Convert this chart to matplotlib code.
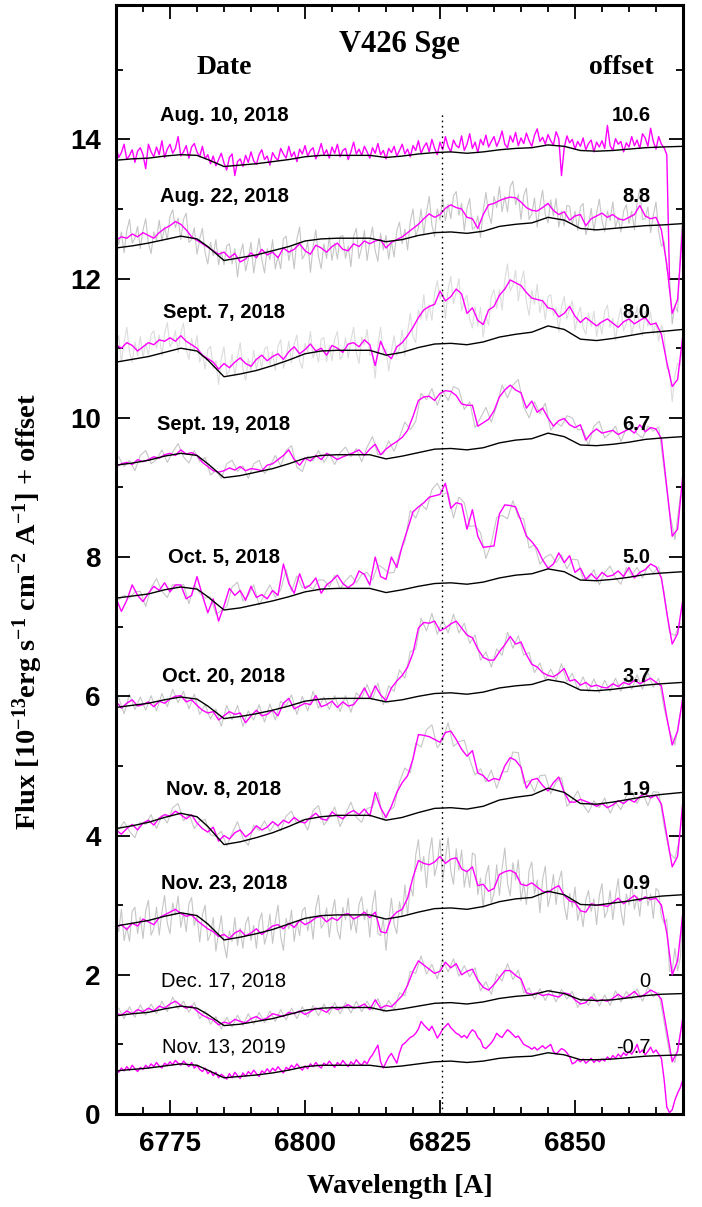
import numpy as np
import matplotlib
matplotlib.use("Agg")
import matplotlib.pyplot as plt
from matplotlib.ticker import MultipleLocator

# ---------------------------------------------------------------- grids
wl = np.arange(6765.0, 6870.5, 1.0)          # smoothed spectra (1 A)
wl_raw = np.arange(6765.5, 6870.0, 1.0)      # unsmoothed spectra, 1 A
wl_fine = np.arange(6765.0, 6870.25, 0.5)    # 0.5 A sampling
wl_aug10 = np.arange(6765.0, 6867.75, 0.5)   # first night
wl_cont = [6765, 6768, 6771, 6774, 6777, 6780, 6782, 6785, 6788, 6791, 6794,
           6797, 6800, 6803, 6806, 6809, 6812, 6815, 6818, 6821, 6824, 6827,
           6830, 6833, 6836, 6839, 6842, 6845, 6848, 6851, 6854, 6857, 6860,
           6863, 6866, 6870]
raman_wl = 6825.4

dates = ["Aug. 10, 2018", "Aug. 22, 2018", "Sept. 7, 2018", "Sept. 19, 2018",
         "Oct. 5, 2018", "Oct. 20, 2018", "Nov. 8, 2018", "Nov. 23, 2018",
         "Dec. 17, 2018", "Nov. 13, 2019"]
offsets = [10.6, 8.8, 8.0, 6.7, 5.0, 3.7, 1.9, 0.9, 0.0, -0.7]
offset_text = ["10.6", "8.8", "8.0", "6.7", "5.0", "3.7", "1.9", "0.9", "0", "-0.7"]

# ---------------------------------------------------------------- fluxes [1e-13 erg/s/cm2/A]
flux_aug10 = [
    3.29, 3.14, 3.21, 3.33, 3.11, 3.17, 3.25, 3.07, 3.23, 3.28,
    3.18, 2.98, 3.33, 3.22, 3.15, 3.29, 3.18, 3.38, 3.14, 3.26,
    3.33, 3.20, 3.27, 3.44, 3.16, 3.22, 3.31, 3.13, 3.29, 3.34,
    3.22, 3.15, 3.30, 3.12, 3.18, 3.05, 3.16, 3.02, 3.11, 3.20,
    3.06, 2.96, 3.14, 3.19, 2.88, 3.08, 3.12, 3.01, 3.17, 3.07,
    3.22, 3.09, 3.04, 3.18, 3.25, 3.11, 3.16, 3.03, 3.21, 3.14,
    3.10, 3.27, 3.19, 3.13, 3.30, 3.15, 3.22, 3.08, 3.26, 3.19,
    3.31, 3.16, 3.24, 3.28, 3.12, 3.21, 3.34, 3.18, 3.25, 3.13,
    3.29, 3.20, 3.33, 3.15, 3.24, 3.27, 3.11, 3.22, 3.36, 3.19,
    3.26, 3.17, 3.30, 3.22, 3.13, 3.28, 3.20, 3.34, 3.18, 3.24,
    3.12, 3.27, 3.21, 3.30, 3.16, 3.24, 3.33, 3.19, 3.26, 3.15,
    3.31, 3.24, 3.38, 3.20, 3.29, 3.35, 3.22, 3.40, 3.27, 3.18,
    3.36, 3.25, 3.44, 3.30, 3.22, 3.39, 3.31, 3.28, 3.45, 3.24,
    3.33, 3.48, 3.27, 3.36, 3.21, 3.40, 3.32, 3.46, 3.29, 3.37,
    3.44, 3.30, 3.39, 3.52, 3.33, 3.28, 3.45, 3.36, 3.50, 3.31,
    3.42, 3.34, 3.49, 3.38, 3.30, 3.46, 3.55, 3.37, 3.43, 3.33,
    3.47, 3.38, 3.32, 3.51, 3.41, 2.88, 3.28, 3.45, 3.35, 3.40,
    3.26, 3.37, 3.30, 3.42, 3.25, 3.34, 3.39, 3.22, 3.36, 3.29,
    3.38, 3.27, 3.60, 3.31, 3.24, 3.41, 3.33, 3.37, 3.22, 3.35,
    3.29, 3.44, 3.31, 3.39, 3.27, 3.48, 3.42, 3.30, 3.56, 3.37,
    3.26, 3.44, 3.33, 3.28, 3.18, 1.40]

flux_aug22 = [
    3.75, 3.80, 3.78, 3.84, 3.80, 3.86, 3.82, 3.78, 3.86, 3.92,
    3.96, 4.02, 3.98, 3.90, 3.80, 3.75, 3.70, 3.65, 3.60, 3.55,
    3.58, 3.50, 3.56, 3.44, 3.48, 3.57, 3.50, 3.62, 3.54, 3.58,
    3.50, 3.64, 3.58, 3.62, 3.70, 3.60, 3.55, 3.68, 3.64, 3.58,
    3.66, 3.71, 3.62, 3.60, 3.70, 3.66, 3.74, 3.70, 3.74, 3.76,
    3.64, 3.72, 3.76, 3.80, 3.86, 3.92, 3.98, 4.06, 4.13, 4.08,
    4.12, 4.21, 4.26, 4.22, 4.20, 4.08, 4.06, 3.92, 4.12, 4.26,
    4.28, 4.32, 4.35, 4.37, 4.36, 4.30, 4.22, 4.18, 4.17, 4.22,
    4.28, 4.18, 4.12, 4.16, 4.04, 4.10, 4.12, 3.96, 4.06, 4.10,
    4.14, 4.08, 4.12, 4.06, 4.04, 4.08, 4.12, 4.25, 4.10, 4.06,
    4.08, 3.90, 3.40, 2.70, 2.90, 4.00]
raw_aug22 = [
    3.95, 3.69, 3.87, 3.57, 3.89, 4.05, 3.71, 3.78, 3.95, 3.63,
    3.90, 4.06, 3.71, 3.56, 3.87, 3.75, 4.04, 3.74, 3.94, 3.76,
    4.09, 4.19, 3.93, 4.07, 3.76, 4.05, 4.14, 3.72, 3.76, 3.93,
    3.55, 3.77, 3.92, 3.57, 3.41, 3.72, 3.53, 3.76, 3.40, 3.59,
    3.40, 3.67, 3.70, 3.41, 3.63, 3.22, 3.55, 3.70, 3.31, 3.48,
    3.72, 3.28, 3.54, 3.78, 3.48, 3.28, 3.63, 3.47, 3.76, 3.34,
    3.52, 3.34, 3.77, 3.81, 3.46, 3.67, 3.34, 3.77, 3.94, 3.48,
    3.55, 3.73, 3.29, 3.66, 3.90, 3.52, 3.34, 3.70, 3.49, 3.80,
    3.46, 3.71, 3.48, 3.80, 3.82, 3.49, 3.67, 3.37, 3.81, 3.92,
    3.49, 3.65, 3.89, 3.46, 3.74, 3.94, 3.60, 3.45, 3.85, 3.61,
    3.82, 3.48, 3.74, 3.51, 3.89, 4.01, 3.70, 3.91, 3.61, 4.02,
    4.20, 3.80, 3.93, 4.20, 3.83, 4.15, 4.38, 3.97, 3.80, 4.20,
    4.04, 4.36, 4.03, 4.27, 4.06, 4.39, 4.45, 4.11, 4.28, 3.89,
    4.21, 4.35, 3.91, 3.94, 4.10, 3.79, 4.17, 4.44, 4.13, 3.99,
    4.38, 4.22, 4.52, 4.16, 4.38, 4.16, 4.52, 4.60, 4.26, 4.41,
    4.05, 4.39, 4.50, 4.05, 4.13, 4.36, 3.94, 4.25, 4.47, 4.12,
    4.00, 4.33, 4.10, 4.35, 3.94, 4.17, 3.96, 4.25, 4.24, 3.98,
    4.17, 3.89, 4.23, 4.28, 3.83, 3.97, 4.21, 3.88, 4.14, 4.34,
    4.03, 3.87, 4.17, 4.03, 4.30, 3.94, 4.08, 3.87, 4.17, 4.26,
    3.99, 4.17, 3.90, 4.29, 4.49, 4.05, 4.06, 4.23, 3.86, 4.11,
    4.30, 3.88, 3.66, 3.74, 3.33, 3.23, 2.55, 2.82, 2.72, 3.58,
    4.20]

flux_sep07 = [
    3.05, 3.00, 3.08, 3.04, 2.96, 3.02, 3.08, 3.05, 3.12, 3.10,
    3.15, 3.10, 3.18, 3.10, 3.05, 3.00, 2.90, 2.85, 2.80, 2.70,
    2.78, 2.72, 2.80, 2.86, 2.78, 2.74, 2.84, 2.90, 2.82, 2.88,
    2.92, 2.84, 2.95, 3.02, 2.92, 2.98, 3.06, 2.96, 3.00, 2.90,
    3.04, 3.00, 2.94, 3.06, 3.08, 3.02, 3.12, 3.05, 2.75, 3.10,
    2.92, 2.85, 3.02, 3.08, 3.18, 3.30, 3.44, 3.55, 3.60, 3.63,
    3.82, 3.68, 3.74, 3.85, 3.78, 3.50, 3.58, 3.40, 3.34, 3.55,
    3.60, 3.76, 3.85, 3.98, 3.94, 3.90, 3.80, 3.72, 3.70, 3.68,
    3.58, 3.56, 3.45, 3.50, 3.60, 3.46, 3.37, 3.44, 3.38, 3.32,
    3.38, 3.42, 3.36, 3.30, 3.38, 3.42, 3.35, 3.40, 3.44, 3.34,
    3.36, 3.20, 2.80, 2.45, 2.55, 3.20]
raw_sep07 = [
    3.01, 3.18, 2.80, 3.08, 3.30, 2.95, 2.80, 3.09, 2.89, 3.17,
    2.87, 3.07, 2.90, 3.20, 3.25, 3.00, 3.19, 2.89, 3.21, 3.37,
    3.02, 3.09, 3.25, 2.94, 3.22, 3.36, 2.99, 2.84, 3.14, 2.96,
    3.18, 2.80, 2.92, 2.70, 2.98, 3.03, 2.71, 2.82, 2.48, 2.85,
    3.02, 2.62, 2.68, 2.91, 2.60, 2.87, 3.08, 2.71, 2.54, 2.85,
    2.67, 2.97, 2.69, 2.89, 2.72, 2.99, 3.02, 2.76, 2.95, 2.68,
    3.03, 3.12, 2.71, 2.86, 3.10, 2.79, 3.06, 3.19, 2.81, 2.71,
    3.07, 2.95, 3.24, 2.86, 2.98, 2.80, 3.13, 3.15, 2.81, 3.04,
    2.82, 3.13, 3.24, 2.84, 2.90, 3.15, 2.86, 3.11, 3.30, 2.94,
    2.78, 3.16, 3.05, 3.27, 2.90, 2.92, 2.57, 3.05, 3.30, 2.92,
    2.99, 2.67, 2.96, 3.18, 2.89, 3.00, 3.26, 2.89, 3.23, 3.50,
    3.17, 3.08, 3.55, 3.42, 3.77, 3.40, 3.62, 3.40, 3.79, 3.97,
    3.71, 3.83, 3.42, 3.84, 4.03, 3.64, 3.80, 4.00, 3.54, 3.69,
    3.76, 3.41, 3.29, 3.60, 3.32, 3.59, 3.16, 3.47, 3.33, 3.74,
    3.84, 3.57, 3.84, 3.55, 3.98, 4.21, 3.82, 3.91, 4.12, 3.68,
    3.95, 4.11, 3.67, 3.47, 3.83, 3.63, 3.92, 3.51, 3.70, 3.41,
    3.74, 3.77, 3.47, 3.58, 3.23, 3.59, 3.74, 3.42, 3.56, 3.68,
    3.26, 3.46, 3.59, 3.30, 3.20, 3.50, 3.31, 3.53, 3.17, 3.37,
    3.20, 3.53, 3.62, 3.30, 3.43, 3.11, 3.41, 3.58, 3.25, 3.36,
    3.57, 3.19, 3.39, 3.60, 3.29, 3.18, 3.53, 3.32, 3.52, 3.20,
    3.38, 3.10, 3.33, 3.20, 2.71, 2.69, 2.23, 2.61, 2.79, 2.75,
    3.16]

flux_sep19 = [
    2.60, 2.64, 2.66, 2.63, 2.70, 2.67, 2.70, 2.74, 2.72, 2.77,
    2.79, 2.76, 2.84, 2.78, 2.80, 2.76, 2.66, 2.60, 2.54, 2.52,
    2.54, 2.58, 2.55, 2.60, 2.54, 2.57, 2.56, 2.54, 2.62, 2.64,
    2.70, 2.76, 2.84, 2.70, 2.62, 2.72, 2.68, 2.76, 2.70, 2.79,
    2.75, 2.70, 2.74, 2.77, 2.80, 2.84, 2.76, 2.85, 2.92, 2.77,
    2.85, 2.91, 2.96, 3.02, 3.12, 3.32, 3.55, 3.60, 3.61, 3.55,
    3.65, 3.69, 3.68, 3.62, 3.50, 3.48, 3.48, 3.18, 3.23, 3.28,
    3.40, 3.60, 3.70, 3.77, 3.70, 3.66, 3.44, 3.54, 3.38, 3.44,
    3.30, 3.18, 3.26, 3.29, 3.20, 3.16, 3.20, 2.98, 3.08, 3.14,
    3.08, 3.10, 3.12, 3.06, 3.10, 3.14, 3.08, 3.20, 3.10, 3.16,
    3.14, 3.00, 2.30, 1.60, 1.70, 2.50]
raw_sep19 = [
    2.74, 2.60, 2.69, 2.54, 2.76, 2.83, 2.64, 2.70, 2.84, 2.66,
    2.81, 2.93, 2.74, 2.65, 2.83, 2.67, 2.73, 2.48, 2.54, 2.43,
    2.64, 2.69, 2.53, 2.61, 2.43, 2.64, 2.69, 2.50, 2.60, 2.76,
    2.61, 2.83, 2.90, 2.59, 2.53, 2.75, 2.68, 2.83, 2.66, 2.78,
    2.63, 2.80, 2.88, 2.74, 2.86, 2.67, 2.88, 3.03, 2.77, 2.78,
    2.97, 2.82, 3.02, 3.24, 3.13, 3.25, 3.65, 3.56, 3.72, 3.48,
    3.69, 3.55, 3.75, 3.71, 3.42, 3.53, 3.16, 3.30, 3.45, 3.24,
    3.47, 3.77, 3.59, 3.77, 3.85, 3.46, 3.30, 3.53, 3.36, 3.51,
    3.12, 3.23, 3.18, 3.33, 3.30, 3.13, 3.13, 2.90, 3.18, 3.25,
    3.01, 3.08, 3.18, 2.96, 3.15, 3.24, 3.07, 3.01, 3.18, 3.11,
    3.17, 2.56, 1.96, 1.55, 2.18]

flux_oct05 = [
    2.41, 2.22, 2.38, 2.60, 2.45, 2.36, 2.48, 2.58, 2.52, 2.63,
    2.50, 2.60, 2.60, 2.40, 2.45, 2.72, 2.45, 2.20, 2.40, 2.08,
    2.30, 2.55, 2.45, 2.52, 2.38, 2.58, 2.42, 2.46, 2.40, 2.52,
    2.45, 2.90, 2.62, 2.48, 2.76, 2.55, 2.60, 2.70, 2.48, 2.60,
    2.66, 2.74, 2.62, 2.56, 2.62, 2.80, 2.75, 2.60, 3.00, 2.72,
    2.68, 3.00, 2.85, 3.16, 3.40, 3.65, 3.72, 3.78, 3.86, 3.88,
    3.90, 4.06, 3.70, 3.78, 3.76, 3.40, 3.68, 3.30, 3.14, 3.15,
    3.16, 3.62, 3.75, 3.74, 3.72, 3.52, 3.30, 3.22, 3.12, 2.96,
    2.84, 2.90, 3.06, 2.92, 3.02, 2.78, 2.84, 2.68, 2.76, 2.68,
    2.78, 2.72, 2.74, 2.80, 2.72, 2.85, 2.70, 2.78, 2.82, 2.90,
    2.86, 2.70, 2.20, 1.75, 1.90, 2.40]
raw_oct05 = [
    2.39, 2.45, 2.41, 2.50, 2.51, 2.29, 2.56, 2.69, 2.51, 2.42,
    2.61, 2.56, 2.61, 2.33, 2.60, 2.48, 2.41, 2.43, 2.18, 2.23,
    2.29, 2.57, 2.64, 2.37, 2.45, 2.60, 2.31, 2.46, 2.60, 2.42,
    2.53, 2.82, 2.51, 2.73, 2.56, 2.59, 2.54, 2.67, 2.67, 2.57,
    2.74, 2.54, 2.66, 2.74, 2.63, 2.75, 2.78, 2.67, 2.89, 2.84,
    2.77, 2.78, 3.06, 3.23, 3.67, 3.56, 3.76, 3.68, 3.97, 4.06,
    3.90, 3.93, 3.56, 3.86, 3.78, 3.44, 3.45, 3.35, 2.98, 3.20,
    3.57, 3.60, 3.55, 3.81, 3.57, 3.55, 3.13, 3.18, 2.90, 3.00,
    3.04, 2.92, 3.03, 2.83, 2.97, 2.96, 2.68, 2.69, 2.82, 2.60,
    2.78, 2.87, 2.70, 2.61, 2.85, 2.74, 2.85, 2.70, 2.87, 2.77,
    2.86, 2.50, 1.92, 1.87, 2.05]

flux_oct20 = [
    2.23, 2.13, 2.20, 2.25, 2.16, 2.18, 2.22, 2.15, 2.23, 2.20,
    2.26, 2.30, 2.31, 2.22, 2.25, 2.17, 2.10, 2.06, 2.08, 1.96,
    2.02, 2.08, 2.04, 2.06, 1.92, 2.02, 2.10, 2.02, 2.04, 2.10,
    2.02, 2.20, 2.27, 2.12, 2.16, 2.20, 2.18, 2.31, 2.15, 2.18,
    2.23, 2.14, 2.22, 2.16, 2.18, 2.28, 2.42, 2.27, 2.45, 2.32,
    2.24, 2.42, 2.52, 2.60, 2.72, 2.92, 3.28, 3.36, 3.35, 3.38,
    3.24, 3.28, 3.34, 3.38, 3.28, 3.18, 3.14, 2.98, 2.86, 2.82,
    2.82, 2.94, 3.04, 3.16, 3.05, 3.08, 2.90, 2.76, 2.72, 2.64,
    2.60, 2.58, 2.63, 2.70, 2.52, 2.54, 2.46, 2.50, 2.44, 2.46,
    2.43, 2.42, 2.48, 2.44, 2.50, 2.47, 2.53, 2.48, 2.52, 2.56,
    2.50, 2.45, 2.00, 1.60, 1.80, 2.30]
raw_oct20 = [
    2.28, 2.05, 2.33, 2.11, 2.29, 2.10, 2.31, 2.09, 2.34, 2.15,
    2.40, 2.21, 2.37, 2.12, 2.33, 2.04, 2.18, 1.97, 2.12, 1.87,
    2.17, 1.96, 2.17, 1.87, 2.09, 1.96, 2.18, 1.93, 2.19, 1.96,
    2.23, 2.16, 2.32, 2.04, 2.30, 2.09, 2.37, 2.13, 2.29, 2.11,
    2.31, 2.08, 2.31, 2.07, 2.35, 2.27, 2.47, 2.26, 2.49, 2.18,
    2.45, 2.37, 2.68, 2.56, 2.94, 2.98, 3.42, 3.24, 3.49, 3.19,
    3.40, 3.21, 3.48, 3.21, 3.35, 3.06, 3.18, 2.82, 2.94, 2.72,
    2.98, 2.89, 3.22, 2.99, 3.17, 2.89, 2.93, 2.64, 2.78, 2.54,
    2.69, 2.53, 2.77, 2.51, 2.63, 2.40, 2.58, 2.37, 2.55, 2.35,
    2.53, 2.37, 2.56, 2.37, 2.59, 2.40, 2.61, 2.40, 2.64, 2.43,
    2.56, 2.13, 1.80, 1.60, 2.05]

flux_nov08 = [
    2.18, 2.12, 2.20, 2.26, 2.18, 2.28, 2.32, 2.25, 2.35, 2.40,
    2.38, 2.45, 2.40, 2.34, 2.40, 2.28, 2.20, 2.15, 2.22, 2.02,
    2.10, 2.05, 2.14, 2.18, 2.08, 2.14, 2.24, 2.18, 2.22, 2.30,
    2.24, 2.32, 2.28, 2.36, 2.30, 2.28, 2.36, 2.42, 2.34, 2.32,
    2.44, 2.38, 2.34, 2.42, 2.46, 2.40, 2.48, 2.38, 2.72, 2.50,
    2.36, 2.52, 2.72, 2.86, 2.96, 3.20, 3.55, 3.54, 3.52, 3.48,
    3.44, 3.58, 3.60, 3.48, 3.34, 3.24, 3.32, 3.00, 2.96, 2.88,
    2.92, 2.90, 3.10, 3.22, 3.18, 3.08, 2.78, 2.90, 2.92, 2.82,
    2.74, 2.86, 2.94, 2.72, 2.58, 2.58, 2.62, 2.59, 2.56, 2.52,
    2.56, 2.50, 2.54, 2.60, 2.56, 2.62, 2.58, 2.66, 2.70, 2.64,
    2.68, 2.55, 2.10, 1.65, 1.80, 2.60]
raw_nov08 = [
    2.18, 2.30, 2.16, 2.07, 2.29, 2.26, 2.40, 2.20, 2.39, 2.28,
    2.50, 2.56, 2.31, 2.41, 2.20, 2.31, 2.33, 2.11, 2.09, 2.16,
    1.95, 2.13, 2.30, 2.06, 1.96, 2.25, 2.17, 2.31, 2.16, 2.28,
    2.17, 2.38, 2.45, 2.27, 2.33, 2.18, 2.46, 2.53, 2.25, 2.35,
    2.51, 2.23, 2.41, 2.58, 2.36, 2.29, 2.49, 2.51, 2.72, 2.33,
    2.45, 2.51, 2.87, 3.07, 3.00, 3.43, 3.37, 3.62, 3.69, 3.36,
    3.47, 3.72, 3.38, 3.45, 3.47, 3.19, 2.97, 3.06, 2.87, 3.04,
    2.78, 3.01, 3.02, 3.30, 3.29, 2.85, 2.89, 2.73, 2.96, 2.97,
    2.70, 2.87, 2.93, 2.52, 2.61, 2.74, 2.54, 2.43, 2.60, 2.50,
    2.64, 2.42, 2.58, 2.47, 2.67, 2.73, 2.56, 2.72, 2.53, 2.73,
    2.72, 2.24, 1.85, 1.77, 2.10]

flux_nov23 = [
    1.78, 1.82, 1.75, 1.84, 1.80, 1.90, 1.86, 1.82, 1.92, 1.96,
    2.00, 2.04, 1.98, 1.94, 1.96, 1.88, 1.82, 1.76, 1.72, 1.65,
    1.68, 1.62, 1.70, 1.74, 1.66, 1.70, 1.76, 1.68, 1.74, 1.80,
    1.82, 1.76, 1.84, 1.78, 1.88, 1.82, 1.86, 1.92, 1.94, 1.86,
    1.92, 1.88, 1.96, 1.98, 1.90, 1.94, 2.00, 1.92, 2.00, 1.72,
    1.70, 1.92, 2.00, 2.04, 2.20, 2.50, 2.74, 2.70, 2.68, 2.72,
    2.80, 2.70, 2.76, 2.78, 2.62, 2.58, 2.65, 2.38, 2.40, 2.30,
    2.34, 2.54, 2.58, 2.60, 2.56, 2.40, 2.38, 2.42, 2.36, 2.30,
    2.28, 2.34, 2.38, 2.24, 2.16, 2.14, 2.02, 2.00, 2.12, 2.10,
    2.10, 2.08, 2.14, 2.20, 2.12, 2.18, 2.24, 2.16, 2.22, 2.18,
    2.20, 2.10, 1.70, 1.10, 1.30, 2.00]
raw_nov23 = [
    1.89, 1.72, 2.04, 1.59, 1.78, 1.58, 2.01, 2.07, 1.69, 1.93,
    1.62, 2.02, 2.17, 1.67, 1.76, 2.07, 1.67, 2.00, 2.24, 1.84,
    1.69, 2.13, 1.96, 2.23, 1.78, 1.99, 1.72, 2.12, 2.21, 1.81,
    1.96, 1.57, 1.96, 2.10, 1.59, 1.68, 1.92, 1.44, 1.71, 1.95,
    1.54, 1.34, 1.73, 1.58, 1.92, 1.52, 1.77, 1.48, 1.83, 1.93,
    1.59, 1.81, 1.48, 1.86, 1.99, 1.54, 1.68, 1.97, 1.55, 1.87,
    2.10, 1.65, 1.45, 1.91, 1.76, 2.03, 1.58, 1.86, 1.66, 2.02,
    2.07, 1.73, 1.94, 1.61, 2.06, 2.24, 1.77, 1.84, 2.06, 1.64,
    1.98, 2.18, 1.74, 1.61, 2.07, 1.89, 2.20, 1.74, 1.93, 1.70,
    2.11, 2.22, 1.89, 2.04, 1.64, 2.10, 2.31, 1.69, 1.66, 1.91,
    1.45, 1.87, 2.20, 1.82, 1.69, 2.15, 1.94, 2.39, 1.96, 2.38,
    2.23, 2.82, 3.04, 2.59, 2.80, 2.35, 2.85, 3.07, 2.52, 2.69,
    3.04, 2.45, 2.77, 3.07, 2.59, 2.40, 2.91, 2.60, 2.89, 2.36,
    2.61, 2.35, 2.85, 2.82, 2.25, 2.49, 2.06, 2.52, 2.67, 2.12,
    2.27, 2.68, 2.24, 2.63, 2.92, 2.42, 2.23, 2.71, 2.46, 2.75,
    2.16, 2.42, 2.11, 2.60, 2.72, 2.26, 2.46, 1.99, 2.47, 2.66,
    2.08, 2.25, 2.54, 2.11, 2.44, 2.59, 2.10, 1.89, 2.27, 2.07,
    2.36, 1.88, 2.05, 1.79, 2.17, 2.31, 2.01, 2.19, 1.82, 2.24,
    2.41, 1.92, 2.02, 2.31, 1.89, 2.23, 2.48, 2.02, 1.81, 2.26,
    2.10, 2.43, 2.04, 2.23, 1.94, 2.36, 2.47, 2.09, 2.26, 1.91,
    2.34, 2.30, 1.93, 1.84, 1.90, 1.15, 1.16, 1.48, 1.16, 1.34,
    2.11]

flux_dec17 = [
    1.45, 1.42, 1.48, 1.44, 1.50, 1.47, 1.52, 1.48, 1.55, 1.52,
    1.58, 1.62, 1.56, 1.52, 1.55, 1.48, 1.42, 1.38, 1.35, 1.28,
    1.32, 1.30, 1.36, 1.33, 1.31, 1.37, 1.40, 1.35, 1.38, 1.44,
    1.42, 1.40, 1.46, 1.44, 1.48, 1.43, 1.47, 1.52, 1.50, 1.46,
    1.54, 1.50, 1.53, 1.57, 1.52, 1.54, 1.58, 1.50, 1.64, 1.52,
    1.56, 1.54, 1.62, 1.70, 1.85, 2.05, 2.20, 2.14, 2.08, 2.02,
    2.05, 2.18, 2.10, 2.16, 2.00, 2.05, 2.08, 1.92, 1.82, 1.78,
    1.86, 1.96, 2.06, 2.06, 1.99, 1.94, 1.74, 1.72, 1.74, 1.70,
    1.72, 1.70, 1.68, 1.74, 1.72, 1.64, 1.58, 1.60, 1.68, 1.62,
    1.64, 1.62, 1.66, 1.72, 1.66, 1.70, 1.76, 1.68, 1.72, 1.78,
    1.74, 1.65, 1.20, 0.75, 0.90, 1.40]
raw_dec17 = [
    1.52, 1.37, 1.54, 1.39, 1.57, 1.42, 1.58, 1.44, 1.62, 1.47,
    1.68, 1.51, 1.62, 1.46, 1.60, 1.37, 1.48, 1.29, 1.40, 1.22,
    1.39, 1.25, 1.42, 1.27, 1.44, 1.29, 1.46, 1.31, 1.48, 1.33,
    1.50, 1.35, 1.52, 1.37, 1.54, 1.39, 1.56, 1.41, 1.58, 1.43,
    1.60, 1.44, 1.60, 1.45, 1.62, 1.47, 1.62, 1.49, 1.66, 1.46,
    1.63, 1.50, 1.74, 1.70, 2.05, 2.02, 2.27, 2.01, 2.15, 1.94,
    2.22, 2.04, 2.23, 1.98, 2.13, 1.97, 2.10, 1.77, 1.90, 1.72,
    2.01, 1.91, 2.16, 1.93, 2.07, 1.74, 1.81, 1.65, 1.80, 1.63,
    1.79, 1.61, 1.79, 1.65, 1.76, 1.53, 1.67, 1.56, 1.73, 1.55,
    1.71, 1.56, 1.77, 1.61, 1.76, 1.65, 1.80, 1.62, 1.83, 1.68,
    1.75, 1.32, 0.88, 0.74, 1.15]

flux_nov13_2019 = [
    1.34, 1.30, 1.36, 1.32, 1.38, 1.33, 1.40, 1.35, 1.31, 1.37,
    1.34, 1.40, 1.36, 1.42, 1.38, 1.44, 1.39, 1.36, 1.43, 1.40,
    1.45, 1.41, 1.47, 1.43, 1.40, 1.46, 1.42, 1.38, 1.44, 1.36,
    1.40, 1.34, 1.31, 1.36, 1.28, 1.32, 1.25, 1.30, 1.22, 1.27,
    1.24, 1.20, 1.28, 1.22, 1.30, 1.25, 1.21, 1.29, 1.24, 1.31,
    1.27, 1.33, 1.28, 1.24, 1.32, 1.29, 1.35, 1.30, 1.36, 1.32,
    1.38, 1.33, 1.29, 1.37, 1.34, 1.40, 1.36, 1.42, 1.37, 1.33,
    1.39, 1.35, 1.42, 1.38, 1.44, 1.39, 1.36, 1.43, 1.40, 1.46,
    1.41, 1.37, 1.44, 1.40, 1.47, 1.42, 1.38, 1.45, 1.41, 1.48,
    1.43, 1.40, 1.46, 1.42, 1.50, 1.55, 1.62, 1.69, 1.45, 1.36,
    1.44, 1.52, 1.57, 1.50, 1.43, 1.58, 1.69, 1.72, 1.76, 1.80,
    1.82, 1.86, 1.92, 2.03, 1.98, 1.94, 1.90, 1.96, 1.88, 1.79,
    1.85, 1.92, 1.96, 2.00, 1.94, 1.90, 1.86, 1.84, 1.80, 1.83,
    1.79, 1.86, 1.91, 1.88, 1.80, 1.76, 1.66, 1.64, 1.68, 1.72,
    1.78, 1.86, 1.82, 1.80, 1.86, 1.91, 1.88, 1.84, 1.80, 1.82,
    1.76, 1.70, 1.68, 1.66, 1.63, 1.66, 1.62, 1.65, 1.68, 1.64,
    1.67, 1.70, 1.60, 1.56, 1.60, 1.64, 1.62, 1.58, 1.52, 1.42,
    1.44, 1.48, 1.45, 1.49, 1.43, 1.46, 1.50, 1.44, 1.48, 1.45,
    1.49, 1.46, 1.52, 1.48, 1.54, 1.50, 1.56, 1.52, 1.58, 1.54,
    1.60, 1.56, 1.62, 1.70, 1.58, 1.62, 1.55, 1.60, 1.66, 1.58,
    1.62, 1.56, 1.50, 1.20, 0.80, 0.72, 0.76, 0.90, 1.00, 1.08,
    1.20]

# ---------------------------------------------------------------- continuum templates
cont_aug10 = [3.10, 3.12, 3.13, 3.16, 3.18, 3.17, 3.11, 3.01, 3.03, 3.05, 3.08,
              3.11, 3.15, 3.17, 3.17, 3.17, 3.17, 3.14, 3.16, 3.19, 3.21, 3.22,
              3.20, 3.22, 3.25, 3.27, 3.28, 3.32, 3.30, 3.24, 3.23, 3.24, 3.26,
              3.28, 3.29, 3.30]
cont_aug22 = [3.64, 3.67, 3.71, 3.76, 3.81, 3.77, 3.66, 3.46, 3.50, 3.54, 3.60,
              3.66, 3.74, 3.77, 3.78, 3.78, 3.78, 3.73, 3.76, 3.82, 3.86, 3.87,
              3.85, 3.88, 3.95, 3.98, 4.00, 4.08, 4.04, 3.92, 3.90, 3.92, 3.94,
              3.96, 3.97, 3.99]
cont_sep07 = [2.80, 2.84, 2.88, 2.94, 3.00, 2.96, 2.83, 2.59, 2.63, 2.68, 2.75,
              2.83, 2.92, 2.96, 2.97, 2.97, 2.97, 2.90, 2.94, 3.01, 3.06, 3.07,
              3.05, 3.09, 3.16, 3.20, 3.23, 3.32, 3.27, 3.13, 3.11, 3.14, 3.18,
              3.22, 3.24, 3.27]
cont_sep19 = [2.62, 2.65, 2.69, 2.75, 2.79, 2.76, 2.64, 2.44, 2.47, 2.52, 2.57,
              2.64, 2.72, 2.76, 2.77, 2.77, 2.77, 2.71, 2.75, 2.80, 2.85, 2.86,
              2.84, 2.87, 2.94, 2.98, 3.00, 3.08, 3.03, 2.91, 2.90, 2.92, 2.95,
              2.99, 3.01, 3.03]
cont_oct05 = [2.41, 2.44, 2.47, 2.53, 2.57, 2.54, 2.43, 2.24, 2.27, 2.32, 2.37,
              2.43, 2.50, 2.54, 2.55, 2.55, 2.55, 2.49, 2.53, 2.58, 2.62, 2.63,
              2.61, 2.64, 2.70, 2.74, 2.76, 2.83, 2.79, 2.67, 2.66, 2.68, 2.71,
              2.75, 2.77, 2.79]
cont_oct20 = [2.14, 2.17, 2.20, 2.25, 2.29, 2.26, 2.16, 1.98, 2.01, 2.05, 2.10,
              2.16, 2.23, 2.26, 2.27, 2.27, 2.27, 2.22, 2.25, 2.30, 2.34, 2.35,
              2.33, 2.36, 2.42, 2.45, 2.47, 2.54, 2.50, 2.39, 2.38, 2.40, 2.43,
              2.46, 2.48, 2.50]
cont_nov08 = [2.20, 2.24, 2.29, 2.36, 2.42, 2.37, 2.23, 1.97, 2.01, 2.07, 2.14,
              2.23, 2.33, 2.37, 2.39, 2.39, 2.39, 2.32, 2.36, 2.43, 2.49, 2.50,
              2.48, 2.52, 2.61, 2.65, 2.68, 2.78, 2.72, 2.56, 2.55, 2.58, 2.62,
              2.66, 2.69, 2.72]
cont_nov23 = [1.80, 1.84, 1.88, 1.94, 1.99, 1.95, 1.83, 1.60, 1.64, 1.69, 1.75,
              1.83, 1.91, 1.95, 1.96, 1.96, 1.96, 1.90, 1.94, 2.00, 2.05, 2.06,
              2.04, 2.08, 2.15, 2.19, 2.21, 2.30, 2.25, 2.11, 2.10, 2.13, 2.16,
              2.20, 2.23, 2.25]
cont_dec17 = [1.41, 1.44, 1.46, 1.51, 1.55, 1.52, 1.43, 1.27, 1.29, 1.33, 1.37,
              1.43, 1.49, 1.52, 1.53, 1.53, 1.53, 1.48, 1.51, 1.55, 1.59, 1.60,
              1.58, 1.61, 1.66, 1.69, 1.71, 1.77, 1.73, 1.64, 1.63, 1.64, 1.67,
              1.70, 1.72, 1.73]
cont_nov13_2019 = [1.32, 1.34, 1.36, 1.39, 1.42, 1.40, 1.33, 1.22, 1.24, 1.26,
                   1.29, 1.33, 1.38, 1.40, 1.40, 1.40, 1.40, 1.37, 1.39, 1.42,
                   1.45, 1.46, 1.44, 1.46, 1.50, 1.52, 1.53, 1.58, 1.55, 1.48,
                   1.48, 1.49, 1.51, 1.53, 1.54, 1.55]

# label rows (data y of each date / offset caption)
label_y = [14.34, 13.18, 11.51, 9.91, 8.00, 6.29, 4.66, 3.31, 1.91, 0.96]
label_bold = [True] * 8 + [False, False]

# ---------------------------------------------------------------- figure
plt.rcParams["font.family"] = ["Liberation Sans", "DejaVu Sans"]
plt.rcParams["mathtext.fontset"] = "custom"
plt.rcParams["mathtext.rm"] = "Liberation Serif:bold"
plt.rcParams["mathtext.it"] = "Liberation Serif:bold"
plt.rcParams["mathtext.bf"] = "Liberation Serif:bold"
plt.rcParams["mathtext.default"] = "rm"

MAGENTA = "#ff00ff"
GREY = "#c6c6c6"
GREY_LIGHT = "#dcdcdc"

fig = plt.figure(figsize=(7.02, 12.07), dpi=100)
ax = fig.add_axes([116 / 702, 1 - 1114 / 1207, 567 / 702, 1109 / 1207])

spectra = [
    (wl_aug10, flux_aug10, None, None, None, cont_aug10),
    (wl, flux_aug22, wl_fine, raw_aug22, GREY, cont_aug22),
    (wl, flux_sep07, wl_fine, raw_sep07, GREY_LIGHT, cont_sep07),
    (wl, flux_sep19, wl_raw, raw_sep19, GREY, cont_sep19),
    (wl, flux_oct05, wl_raw, raw_oct05, GREY, cont_oct05),
    (wl, flux_oct20, wl_raw, raw_oct20, GREY, cont_oct20),
    (wl, flux_nov08, wl_raw, raw_nov08, GREY, cont_nov08),
    (wl, flux_nov23, wl_fine, raw_nov23, GREY, cont_nov23),
    (wl, flux_dec17, wl_raw, raw_dec17, GREY, cont_dec17),
    (wl_fine, flux_nov13_2019, None, None, None, cont_nov13_2019),
]

for (x, flux, xr, raw, gcol, cont), off in zip(spectra, offsets):
    if raw is not None:
        ax.plot(xr, np.asarray(raw) + off, color=gcol, lw=0.8, zorder=1)
    ax.plot(x, np.asarray(flux) + off, color=MAGENTA, lw=1.0, zorder=2)
    ax.plot(wl_cont, np.asarray(cont) + off, color="black", lw=1.0, zorder=3)

ax.vlines(raman_wl, 0, 14.4, colors="black", linestyles=(0, (1.2, 2.6)),
          lw=1.0, zorder=4)

# captions
for txt, otxt, y, bold in zip(dates, offset_text, label_y, label_bold):
    w = "bold" if bold else "normal"
    ax.text(6785, y, txt, ha="center", va="center", fontsize=14.5,
            fontweight=w, color="black", zorder=5)
    ax.text(6864, y, otxt, ha="right", va="center", fontsize=14.5,
            fontweight=w, color="black", zorder=5)

serif = dict(family="Liberation Serif", fontweight="bold")
ax.text(6817.4, 15.36, "V426 Sge", ha="center", va="center", fontsize=22, **serif)
ax.text(6785, 15.03, "Date", ha="center", va="center", fontsize=20, **serif)
ax.text(6864.5, 15.03, "offset", ha="right", va="center", fontsize=20, **serif)

ax.set_xlim(6765, 6870)
ax.set_ylim(0, 15.93)
ax.xaxis.set_major_locator(MultipleLocator(25))
ax.xaxis.set_minor_locator(MultipleLocator(5))
ax.yaxis.set_major_locator(MultipleLocator(2))
ax.yaxis.set_minor_locator(MultipleLocator(1))
ax.tick_params(which="both", direction="in", top=True, right=True, width=1.3)
ax.tick_params(which="major", length=10)
ax.tick_params(which="minor", length=5)
ax.tick_params(axis="x", which="major", pad=12)
ax.tick_params(axis="y", which="major", pad=11)
for lab in ax.get_xticklabels() + ax.get_yticklabels():
    lab.set_fontsize(20)
    lab.set_fontweight("bold")
for sp in ax.spines.values():
    sp.set_linewidth(2.2)

ax.set_xlabel("Wavelength [A]", fontsize=20, **serif)
ax.set_ylabel(r"Flux [10$^{-13}$erg s$^{-1}$ cm$^{-2}$ A$^{-1}$] + offset",
              fontsize=20.5, **serif)
ax.xaxis.set_label_coords(0.5, -0.054)
ax.yaxis.set_label_coords(-0.125, 0.4527)

fig.savefig("out.png", dpi=100)
